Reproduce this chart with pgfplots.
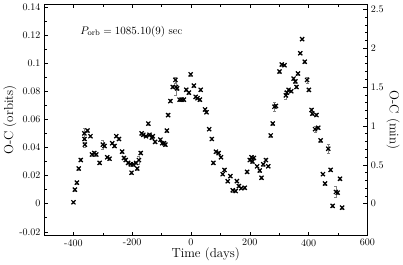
\documentclass[border=0pt]{standalone}
\usepackage{pgfplots}
\pgfplotsset{compat=1.18}
\usepackage{pgfplotstable}
\pgfplotstableread{
day val err
-400 0.001 0.001
-395 0.010 0.001
-388 0.015 0.001
-382 0.025 0.001
-375 0.031 0.001
-363 0.050 0.004
-362 0.046 0.001
-361 0.042 0.002
-352 0.052 0.001
-342 0.048 0.001
-337 0.035 0.001
-329 0.036 0.001
-322 0.035 0.001
-311 0.029 0.001
-300 0.042 0.003
-294 0.041 0.001
-285 0.033 0.001
-277 0.032 0.001
-268 0.043 0.001
-260 0.041 0.001
-254 0.048 0.001
-245 0.046 0.001
-234 0.037 0.001
-228 0.0325 0.001
-222 0.031 0.001
-214 0.029 0.001
-205 0.028 0.001
-202 0.022 0.001
-197 0.028 0.001
-187 0.029 0.001
-183 0.025 0.001
-177 0.031 0.003
-171 0.036 0.001
-168 0.050 0.001
-162 0.049 0.001
-153 0.048 0.001
-145 0.057 0.001
-141 0.049 0.001
-133 0.047 0.001
-130 0.048 0.001
-122 0.044 0.001
-104 0.0455 0.001
-98 0.043 0.001
-92 0.043 0.001
-87 0.042 0.001
-82 0.052 0.001
-78 0.063 0.001
-70 0.073 0.001
-62 0.083 0.001
-53 0.088 0.002
-51 0.083 0.006
-47 0.082 0.001
-39 0.074 0.001
-32 0.074 0.001
-24 0.074 0.001
-16 0.081 0.001
-7 0.079 0.001
-1 0.092 0.001
10 0.084 0.001
16 0.076 0.001
22 0.075 0.001
30 0.074 0.001
33 0.081 0.001
48 0.067 0.001
53 0.065 0.001
62 0.053 0.001
71 0.046 0.001
76 0.029 0.001
85 0.037 0.001
94 0.036 0.001
102 0.033 0.001
108 0.021 0.001
114 0.024 0.001
125 0.016 0.001
134 0.0196 0.001
142 0.0095 0.001
152 0.009 0.001
156 0.016 0.001
163 0.0125 0.001
171 0.011 0.001
183 0.0113 0.001
191 0.0226 0.001
200 0.031 0.001
206 0.033 0.001
209 0.030 0.001
214 0.0325 0.001
225 0.0266 0.001
234 0.0236 0.001
240 0.0184 0.001
246 0.028 0.001
255 0.031 0.001
263 0.0266 0.001
271 0.0485 0.001
278 0.057 0.001
284 0.069 0.003
289 0.0695 0.001
301 0.094 0.001
309 0.099 0.001
318 0.0985 0.001
323 0.077 0.003
326 0.079 0.001
332 0.081 0.001
341 0.080 0.001
349 0.089 0.001
355 0.087 0.001
359 0.083 0.001
364 0.0926 0.001
372 0.107 0.001
378 0.117 0.001
387 0.101 0.001
395 0.088 0.002
401 0.081 0.001
410 0.0667 0.001
413 0.064 0.001
422 0.053 0.002
427 0.063 0.001
433 0.054 0.001
441 0.045 0.001
449 0.021 0.001
456 0.0144 0.001
467 0.039 0.003
475 0.024 0.001
482 -0.0016 0.001
493 0.0083 0.004
499 0.0078 0.001
507 0.0177 0.001
514 -0.0028 0.001
}\oc
\begin{document}
\begin{tikzpicture}
\begin{axis}[
  scale only axis, width=321bp, height=230bp,
  xmin=-500, xmax=600, ymin=-0.0228, ymax=0.142,
  xtick={-400,-200,...,600}, minor x tick num=1,
  xticklabels={\hbox{-}400,\hbox{-}200,0,200,400,600},
  ytick={-0.02,0,...,0.14}, minor y tick num=1,
  yticklabels={\hbox{-}0.02,0,0.02,0.04,0.06,0.08,0.1,0.12,0.14},
  xtick pos=both, xticklabel pos=lower,
  ytick pos=left,
  tick align=inside,
  major tick length=4pt, minor tick length=2.5pt,
  xlabel={Time (days)}, ylabel={O-C (orbits)},
  label style={font=\fontsize{13}{15}\selectfont},
  xlabel style={yshift=5pt},
  ylabel style={yshift=-4pt},
  scaled y ticks=false,
  axis line style={line width=0.6pt},
  every tick/.style={line width=0.5pt},
]
\addplot[only marks, mark=x, mark size=2.9pt, line width=1.2pt, black,
  error bars/.cd, y dir=both, y explicit,
  error bar style={line width=0.4pt, gray}, error mark options={rotate=90, mark size=1.5pt, gray}]
  table[x=day, y=val, y error=err]{\oc};
\node[anchor=west, font=\fontsize{11}{13}\selectfont] at (axis cs:-388,0.1225) {$P_{\mathrm{orb}}=1085.10(9)$ sec};
\end{axis}
\begin{axis}[
  scale only axis, width=321bp, height=230bp,
  xmin=-500, xmax=600, ymin=-0.412, ymax=2.568,
  axis x line=none, axis y line*=right,
  ytick={0,0.5,...,2.5}, minor y tick num=4,
  yticklabels={0,0.5,1,1.5,2,2.5},
  tick align=inside,
  major tick length=4pt, minor tick length=2.5pt,
  ylabel={O-C (min)},
  label style={font=\fontsize{13}{15}\selectfont},
  ylabel style={rotate=180, yshift=-4pt},
  axis line style={line width=0.6pt},
  every tick/.style={line width=0.5pt},
]
\end{axis}
\end{tikzpicture}
\end{document}
